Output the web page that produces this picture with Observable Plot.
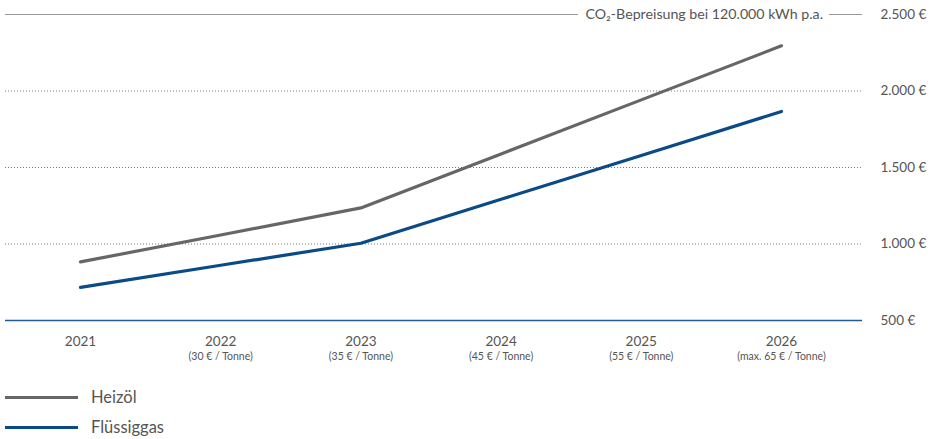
<!DOCTYPE html>
<html>
<head>
<meta charset="utf-8">
<script src="https://cdn.jsdelivr.net/npm/d3@7"></script>
<script src="https://cdn.jsdelivr.net/npm/@observablehq/plot@0.6"></script>
<style>
  html, body { margin: 0; padding: 0; background: #fff; }
  body { width: 937px; height: 439px; overflow: hidden; font-family: Lato, "Open Sans", sans-serif; }
  #chart svg { display: block; }
  .legend { position: relative; height: 64px; }
  .item { position: absolute; left: 0; display: flex; align-items: center; font-size: 16.5px; color: #555; }
  .swatch { display: inline-block; width: 73px; height: 3px; margin-left: 5px; margin-right: 13px; }
</style>
</head>
<body>
<div id="chart"></div>
<div class="legend" id="legend"></div>
<script>
const years = [2021, 2022, 2023, 2024, 2025, 2026];
const yearLabels = ["2021", "2022", "2023", "2024", "2025", "2026"];
const priceLabels = ["", "(30 € / Tonne)", "(35 € / Tonne)", "(45 € / Tonne)", "(55 € / Tonne)", "(max. 65 € / Tonne)"];
const heizoel = [883, 1059, 1236, 1589, 1942, 2295];
const fluessiggas = [716, 861, 1005, 1292, 1579, 1866];
const seriesNames = ["Heizöl", "Flüssiggas"];
const seriesColors = ["#666666", "#0a4a87"];
const yTicks = [500, 1000, 1500, 2000, 2500];
const gridTicks = [1000, 1500, 2000];
const title = "CO₂-Bepreisung bei 120.000 kWh p.a.";

const data = [];
years.forEach((yr, i) => {
  data.push({year: yr, value: heizoel[i], series: seriesNames[0]});
  data.push({year: yr, value: fluessiggas[i], series: seriesNames[1]});
});
const xl = years.map((yr, i) => ({year: yr, label: yearLabels[i], sub: priceLabels[i]}));
const fmt = v => d3.format(",")(v).replace(/,/g, ".") + " €";

const xMin = 2020.465, xMax = 2026.578;
const px = p => xMin + (p - 5) / 140.2;

const chart = Plot.plot({
  width: 937,
  height: 375,
  marginLeft: 5,
  marginRight: 75,
  marginTop: 14,
  marginBottom: 55,
  style: {fontFamily: "Lato, 'Open Sans', sans-serif", background: "#fff"},
  x: {domain: [xMin, xMax], axis: null},
  y: {domain: [500, 2500], axis: null},
  color: {domain: seriesNames, range: seriesColors},
  marks: [
    Plot.ruleY(gridTicks, {stroke: "#777", strokeWidth: 1, strokeDasharray: "1,2"}),
    Plot.ruleY([2500], {x1: xMin, x2: px(578), stroke: "#999", strokeWidth: 1.2}),
    Plot.ruleY([2500], {x1: px(829), x2: xMax, stroke: "#999", strokeWidth: 1.2}),
    Plot.text([title], {x: px(585), y: 2500, text: d => d, textAnchor: "start", fontSize: 14.2, fill: "#555"}),
    Plot.ruleY([500], {stroke: "#1f5a96", strokeWidth: 1.6}),
    Plot.line(data, {x: "year", y: "value", z: "series", stroke: "series", strokeWidth: 3.2, curve: "linear"}),
    Plot.text(yTicks, {x: xMax, y: d => d, text: fmt, dx: 18, textAnchor: "start", fontSize: 13.5, fill: "#555"}),
    Plot.text(xl, {x: "year", y: 500, text: "label", dy: 21, fontSize: 13.5, fill: "#555"}),
    Plot.text(xl, {x: "year", y: 500, text: "sub", dy: 36, fontSize: 10.5, fill: "#555"})
  ]
});
document.getElementById("chart").appendChild(chart);

const legend = document.getElementById("legend");
seriesNames.forEach((name, i) => {
  const item = document.createElement("div");
  item.className = "item";
  item.style.top = (i * 30 + 12) + "px";
  const sw = document.createElement("span");
  sw.className = "swatch";
  sw.style.background = seriesColors[i];
  const t = document.createElement("span");
  t.textContent = name;
  item.appendChild(sw);
  item.appendChild(t);
  legend.appendChild(item);
});
</script>
</body>
</html>
